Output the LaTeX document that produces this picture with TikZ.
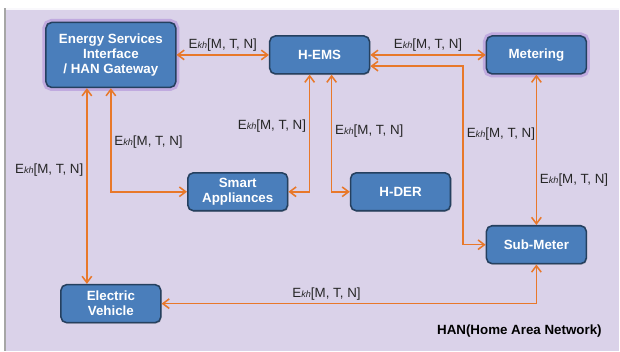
\documentclass[tikz,border=0pt]{standalone}
\usepackage{fontspec}
\setmainfont{Liberation Sans}
\usepackage{xcolor}
\usepackage{tikz}
\usetikzlibrary{arrows.meta,shadows}

\definecolor{panelbg}{HTML}{DAD2E9}
\definecolor{boxfill}{HTML}{4A7EBB}
\definecolor{boxline}{HTML}{25405F}
\definecolor{glow}{HTML}{B89DDB}
\definecolor{linkc}{HTML}{E8782A}

\newcommand{\ekh}{E{\fontsize{6.5}{7}\selectfont\itshape kh}[M, T, N]}

\begin{document}
\begin{tikzpicture}[
  box/.style={draw=boxline,line width=1.1pt,fill=boxfill,rounded corners=4pt,
              minimum width=2.5cm,minimum height=0.95cm,align=center,text=white,
              font=\fontsize{9.5}{10.7}\selectfont\bfseries,
              drop shadow={shadow xshift=0.6pt,shadow yshift=-0.8pt,opacity=0.35}},
  halo/.style={preaction={draw=glow!75!panelbg,line width=5pt,rounded corners=6pt}},
  link/.style={{Straight Barb[length=1.6mm,width=2.4mm]}-{Straight Barb[length=1.6mm,width=2.4mm]},
               draw=linkc,line width=1.1pt},
  lbl/.style={font=\fontsize{9.5}{11}\selectfont,text=black!85,inner sep=2pt},
]
% panel
\fill[white] (0,0) rectangle (15.5,8.775);
\fill[panelbg] (0.1,0) rectangle (15.5,8.575);
\draw[white!85!panelbg,line width=1pt] (0.1,8.55) -- (15.5,8.55);
\draw[gray!70,line width=1.5pt] (0.12,0) -- (0.12,8.575);

\node[box,halo,minimum width=3.25cm,minimum height=1.625cm] (esi) at (2.775,7.4) {Energy Services\\Interface\\/ HAN Gateway};
\node[box] (hems) at (8.0,7.4) {H-EMS};
\node[box,halo] (meter) at (13.425,7.4) {Metering};
\node[box] (smart) at (5.95,3.975) {Smart\\Appliances};
\node[box] (hder) at (10.025,3.975) {H-DER};
\node[box] (sub) at (13.425,2.65) {Sub-Meter};
\node[box] (ev) at (2.775,1.175) {Electric\\Vehicle};

\draw[link] (esi.east) -- node[lbl,above] {\ekh} (hems.west);
\draw[link] (hems.east) -- node[lbl,above] {\ekh} (meter.west);
\draw[link] ([yshift=-2.8mm]hems.east) -- ++(2.325,0) |- node[lbl,pos=0.19,right] {\ekh} (sub.west);
\draw[link] (meter.south) -- node[lbl,pos=0.7,right] {\ekh} (sub.north);
\draw[link] ([xshift=-6mm]esi.south) -- node[lbl,pos=0.42,left] {\ekh} ([xshift=-6mm]ev.north);
\draw[link] (esi.south) |- node[lbl,pos=0.26,right] {\ekh} (smart.west);
\draw[link] ([xshift=-2.5mm]hems.south) |- node[lbl,pos=0.22,left] {\ekh} (smart.east);
\draw[link] ([xshift=3mm]hems.south) |- node[lbl,pos=0.24,right] {\ekh} (hder.west);
\draw[link] (sub.south) |- node[lbl,pos=0.78,above] {\ekh} (ev.east);

\node[font=\fontsize{9.5}{11}\selectfont\bfseries] (han) at (13.0,0.5) {HAN(Home Area Network)};
\end{tikzpicture}
\end{document}
